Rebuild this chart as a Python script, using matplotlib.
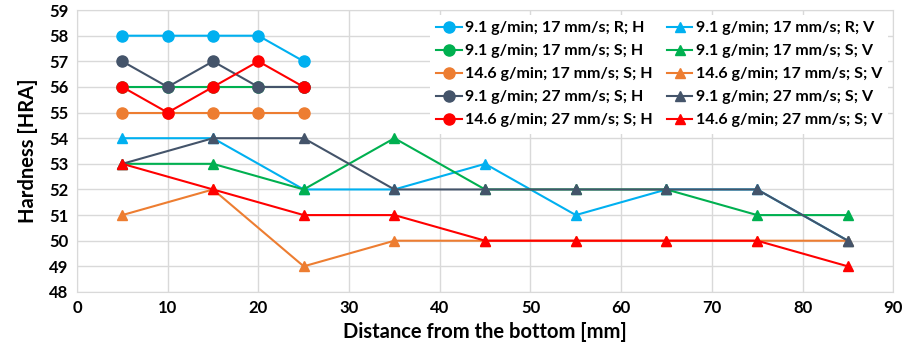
import matplotlib.pyplot as plt

plt.rcParams['font.family'] = ['Lato', 'DejaVu Sans']

# distances [mm]
x_h = [5, 10, 15, 20, 25]
x_v = [5, 15, 25, 35, 45, 55, 65, 75, 85]

# hardness [HRA], horizontal samples
h_91_17_r = [58, 58, 58, 58, 57]
h_91_17_s = [56, 56, 56, 56, 56]
h_146_17_s = [55, 55, 55, 55, 55]
h_91_27_s = [57, 56, 57, 56, 56]
h_146_27_s = [56, 55, 56, 57, 56]

# hardness [HRA], vertical samples
v_91_17_r = [54, 54, 52, 52, 53, 51, 52, 52, 50]
v_91_17_s = [53, 53, 52, 54, 52, 52, 52, 51, 51]
v_146_17_s = [51, 52, 49, 50, 50, 50, 50, 50, 50]
v_91_27_s = [53, 54, 54, 52, 52, 52, 52, 52, 50]
v_146_27_s = [53, 52, 51, 51, 50, 50, 50, 50, 49]

labels = ['9.1 g/min; 17 mm/s; R', '9.1 g/min; 17 mm/s; S',
          '14.6 g/min; 17 mm/s; S', '9.1 g/min; 27 mm/s; S',
          '14.6 g/min; 27 mm/s; S']
colors = ['#00B0F0', '#00B050', '#ED7D31', '#44546A', '#FF0000']
h_data = [h_91_17_r, h_91_17_s, h_146_17_s, h_91_27_s, h_146_27_s]
v_data = [v_91_17_r, v_91_17_s, v_146_17_s, v_91_27_s, v_146_27_s]

fig = plt.figure(figsize=(9.12, 3.6), dpi=100)
ax = fig.add_axes([0.0844, 0.189, 0.895, 0.783])

# V lines first so H markers sit on top
h_lines, v_lines = [], []
for lab, c, hv, vv in zip(labels, colors, h_data, v_data):
    lv, = ax.plot(x_v, vv, color=c, lw=1.5, marker='^', ms=7, label=lab + '; V')
    lh, = ax.plot(x_h, hv, color=c, lw=1.5, marker='o', ms=8, label=lab + '; H')
    h_lines.append(lh)
    v_lines.append(lv)

# legend fills column by column: H in the left column, V in the right
order = h_lines + v_lines
leg = ax.legend(order, [h.get_label() for h in order], ncol=2, loc='upper right',
                bbox_to_anchor=(1.0, 1.0), frameon=True, fancybox=False,
                edgecolor='none', framealpha=1, handlelength=1.6, handletextpad=0.2,
                columnspacing=0.9, labelspacing=0.55, borderaxespad=0.3,
                prop={'weight': 'bold', 'size': 11.5})

ax.set_xlim(0, 90)
ax.set_ylim(48, 59)
ax.set_xticks(range(0, 91, 10))
ax.set_yticks(range(48, 60))
ax.grid(True, color='#D9D9D9', lw=1.0)
ax.set_axisbelow(True)
for s in ax.spines.values():
    s.set_color('#D9D9D9')
ax.tick_params(length=0, labelsize=12, pad=6)
for t in ax.get_xticklabels() + ax.get_yticklabels():
    t.set_fontweight('bold')
ax.set_xlabel('Distance from the bottom [mm]', fontsize=14.5, fontweight='bold', labelpad=4)
ax.set_ylabel('Hardness [HRA]', fontsize=14.5, fontweight='bold', labelpad=8)

fig.savefig('out.png', dpi=100)
